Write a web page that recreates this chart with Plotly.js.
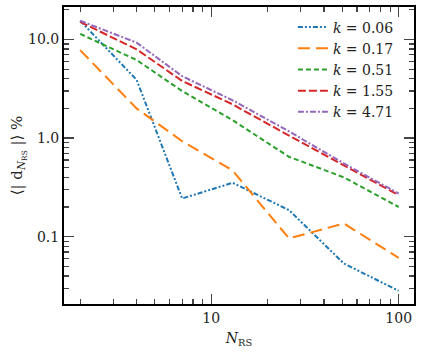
<!DOCTYPE html>
<html>
<head>
<meta charset="utf-8">
<script src="https://cdn.plot.ly/plotly-3.0.1.min.js"></script>
<style>
  html, body { margin: 0; padding: 0; background: #fff; }
  #chart { width: 422px; height: 353px; }
</style>
</head>
<body>
<div id="chart"></div>
<script>
// number of random samples N_RS
var nrs = [2, 4, 7, 13, 26, 51, 100];

// mean relative deviation in %, one array per k
var k006 = [15.5, 3.9, 0.244, 0.352, 0.186, 0.0535, 0.0282];
var k017 = [7.8, 2.0, 0.93, 0.47, 0.096, 0.136, 0.061];
var k051 = [11.4, 6.2, 3.0, 1.52, 0.646, 0.40, 0.20];
var k155 = [15.1, 7.95, 3.8, 2.2, 1.06, 0.527, 0.264];
var k471 = [15.5, 9.3, 4.25, 2.42, 1.17, 0.553, 0.274];

var kLabels = ['0.06', '0.17', '0.51', '1.55', '4.71'];
var colors = ['#1f77b4', '#ff7f0e', '#2ca02c', '#d62728', '#9467bd'];
var dashes = ['5px,2px,2px,2px,2px,2px', '12px,6px', '5px,3px', '8px,3px', '6px,2px,2px,2px'];

var yTickVals = [0.1, 1, 10];
var yTickText = ['0.1', '1.0', '10.0'];
var xTickVals = [10, 100];
var xTickText = ['10', '100'];

function minorTicks(lo, hi) {
    var out = [];
    for (var d = lo; d < hi; d *= 10) {
        for (var m = 2; m <= 9; m++) {
            out.push(m * d);
        }
    }
    return out;
}

var series = [k006, k017, k051, k155, k471];
var traces = series.map(function (ys, i) {
    return {
        x: nrs,
        y: ys,
        type: 'scatter',
        mode: 'lines',
        name: '<i>k</i> = ' + kLabels[i],
        line: { color: colors[i], width: 2, dash: dashes[i] }
    };
});

var font = { family: 'DejaVu Serif, serif', size: 14, color: '#222' };

var axisCommon = {
    type: 'log',
    showline: true,
    linecolor: '#000',
    linewidth: 2,
    mirror: 'ticks',
    ticks: 'inside',
    ticklen: 10,
    tickwidth: 1.3,
    tickcolor: '#444',
    showgrid: false,
    zeroline: false,
    tickfont: font
};

var layout = {
    width: 422,
    height: 353,
    margin: { l: 64, r: 8, t: 7, b: 49 },
    paper_bgcolor: '#fff',
    plot_bgcolor: '#fff',
    font: font,
    showlegend: true,
    legend: {
        x: 0.654, xanchor: 'left',
        y: 0.985, yanchor: 'top',
        bgcolor: 'rgba(0,0,0,0)',
        font: font,
        tracegroupgap: 0,
        itemwidth: 30
    },
    xaxis: Object.assign({}, axisCommon, {
        range: [Math.log10(1.64), Math.log10(120.7)],
        tickmode: 'array',
        tickvals: xTickVals,
        ticktext: xTickText,
        minor: { tickmode: 'array', tickvals: minorTicks(1, 100), ticks: 'inside', ticklen: 5, tickwidth: 1.2, tickcolor: '#444' },
        title: { text: '<i>N</i><sub>RS</sub>', font: font, standoff: 8 }
    }),
    yaxis: Object.assign({}, axisCommon, {
        range: [-1.683, 1.33],
        tickmode: 'array',
        tickvals: yTickVals,
        ticktext: yTickText,
        minor: { tickmode: 'array', tickvals: minorTicks(0.01, 10).concat([20]), ticks: 'inside', ticklen: 5, tickwidth: 1.2, tickcolor: '#444' },
        title: { text: '⟨| d<sub><i>N</i><sub>RS</sub></sub> |⟩ %', font: { family: font.family, size: 15, color: '#222' }, standoff: 2 }
    })
};

Plotly.newPlot('chart', traces, layout, { staticPlot: true });
</script>
</body>
</html>
